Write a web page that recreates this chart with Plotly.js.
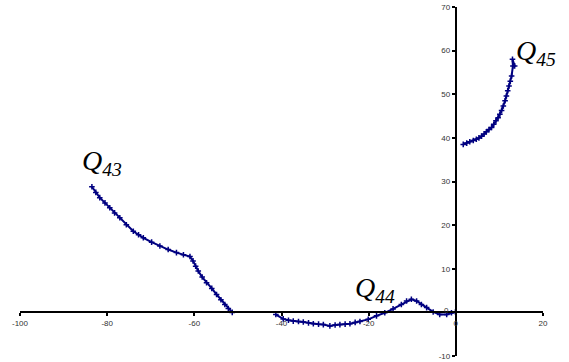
<!DOCTYPE html>
<html><head><meta charset="utf-8">
<script src="https://cdn.plot.ly/plotly-3.0.1.min.js"></script>
<style>html,body{margin:0;padding:0;background:#fff}#chart{width:569px;height:362px}</style>
</head><body><div id="chart"></div>
<script>
const q43x = [-83.5,-82.6,-81.7,-80.5,-79.4,-78.3,-77.1,-75.6,-74.0,-72.8,-71.7,-69.8,-67.9,-66.0,-64.1,-62.5,-61.0,-60.3,-59.7,-59.1,-58.2,-57.2,-56.0,-54.9,-53.9,-53.0,-52.2,-51.3];
const q43y = [28.8,27.5,26.3,25.1,24.0,22.8,21.7,20.1,18.6,17.8,17.1,16.1,15.2,14.4,13.7,13.2,12.8,11.8,10.6,9.5,8.1,6.8,5.5,4.1,2.9,1.8,0.9,0.0];
const q44x = [-41.3,-39.6,-38.4,-37.3,-36.1,-35.0,-33.8,-32.7,-31.5,-30.4,-28.9,-27.7,-26.6,-25.4,-24.3,-23.1,-22.0,-20.1,-18.2,-16.3,-14.4,-12.5,-11.3,-10.2,-9.0,-7.9,-6.7,-5.2,-3.7,-2.1,-1.0,-0.1];
const q44y = [-0.5,-1.5,-1.8,-2.0,-2.1,-2.2,-2.4,-2.6,-2.7,-2.8,-3.1,-2.9,-2.8,-2.7,-2.6,-2.3,-2.1,-1.6,-0.8,-0.1,0.8,1.8,2.6,3.0,2.6,1.8,1.1,0.1,-0.5,-0.5,-0.1,0.1];
const q45x = [1.7,2.5,3.2,4.0,4.7,5.3,5.9,6.5,7.0,7.6,8.2,8.7,9.2,9.7,10.1,10.5,10.9,11.3,11.6,11.9,12.2,12.5,12.8,13.1,13.0,13.5];
const q45y = [38.5,38.8,39.1,39.4,39.7,40.0,40.4,40.9,41.4,41.9,42.4,43.1,43.9,44.6,45.4,46.3,47.3,48.5,49.6,50.8,51.9,53.0,54.2,56.5,58.0,56.5];
const xTicks = [-100,-80,-60,-40,-20,0,20];
const yTicks = [-10,10,20,30,40,50,60,70];
const yZeroLabel = '0';
const labels = [
  {text:'Q<sub>43</sub>', x:-81.2, y:34.4},
  {text:'Q<sub>44</sub>', x:-18.6, y:5.2},
  {text:'Q<sub>45</sub>', x:18.5, y:59.6}
];
function tr(x,y){return {x:x,y:y,type:'scatter',mode:'lines+markers',
  line:{color:'#000080',width:2},
  marker:{symbol:'cross-thin',size:4,color:'#000080',line:{color:'#000080',width:1.5}},
  showlegend:false,hoverinfo:'skip'};}
const data=[tr(q43x,q43y),tr(q44x,q44y),tr(q45x,q45y)];
const tf={family:'Liberation Sans, Arial',size:8,color:'#333'};
const anns=labels.map(l=>({text:'<i>'+l.text+'</i>',x:l.x,y:l.y,xref:'x',yref:'y',showarrow:false,
    font:{family:'Liberation Serif, Times New Roman',size:28,color:'#000'}}));
anns.push({text:yZeroLabel,x:0,y:0,xref:'x',yref:'y',showarrow:false,xanchor:'right',yanchor:'middle',
  xshift:-5,yshift:2,font:tf});
const layout={
  width:569,height:362,margin:{l:20,r:26,t:7,b:6},
  paper_bgcolor:'#fff',plot_bgcolor:'#fff',showlegend:false,
  xaxis:{range:[-100,20],anchor:'free',position:0.125,showline:true,linecolor:'#000',linewidth:2,
    showgrid:false,zeroline:false,ticks:'outside',ticklen:3,tickwidth:2,tickcolor:'#000',
    tickvals:xTicks,ticktext:xTicks.map(String),tickfont:tf},
  yaxis:{range:[-10,70],anchor:'free',position:0.8333,showline:true,linecolor:'#000',linewidth:2,
    showgrid:false,zeroline:false,ticks:'outside',ticklen:3,tickwidth:2,tickcolor:'#000',
    tickvals:yTicks,ticktext:yTicks.map(String),tickfont:tf},
  annotations:anns
};
Plotly.newPlot('chart',data,layout,{staticPlot:true});
</script></body></html>
